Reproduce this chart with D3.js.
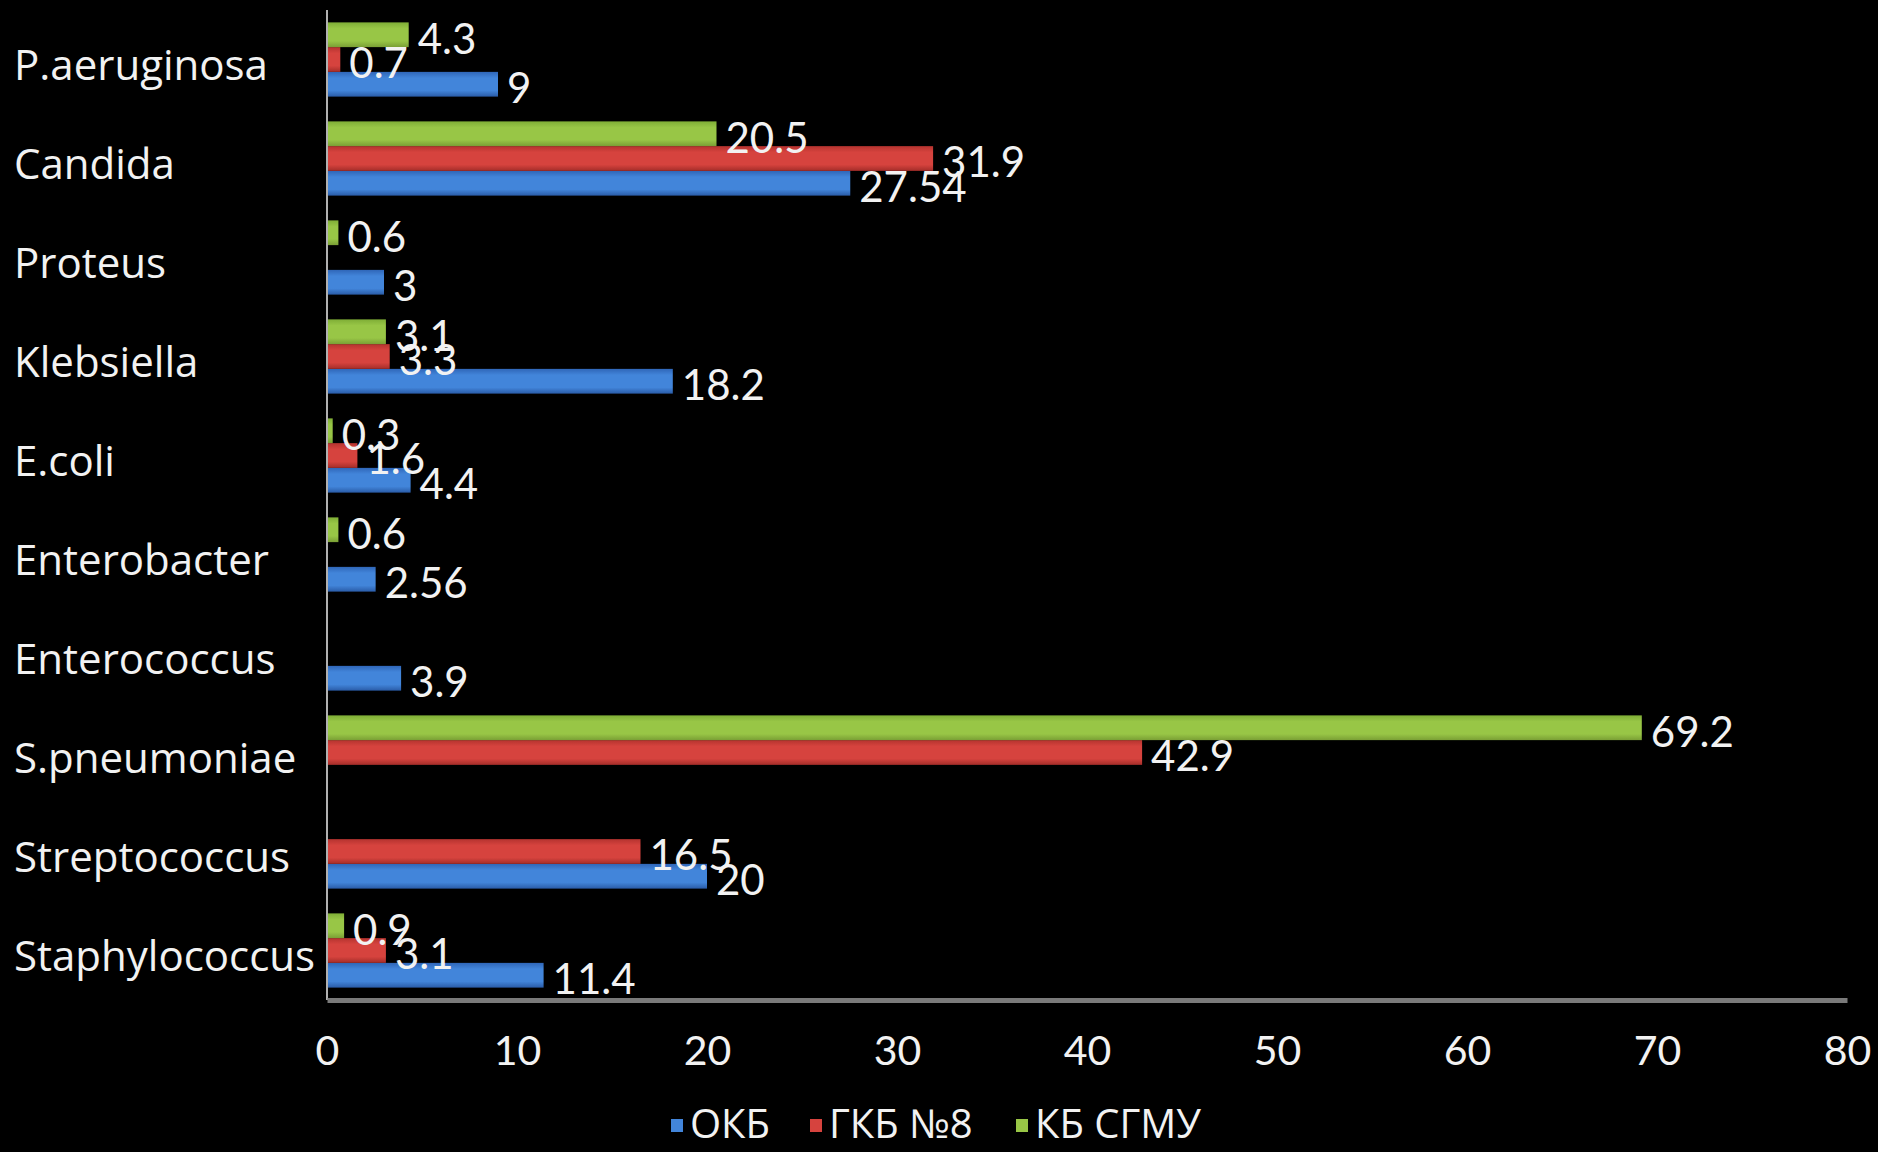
<!DOCTYPE html>
<html>
<head>
<meta charset="utf-8">
<script src="https://cdn.jsdelivr.net/npm/d3@7"></script>
<style>
  html, body { margin: 0; padding: 0; background: #000; }
  svg { display: block; }
  text { font-family: Lato, "Open Sans", sans-serif; fill: #f2f2f2; }
</style>
</head>
<body>
<svg id="chart" width="1878" height="1152"></svg>
<script>
// Organisms, listed top to bottom as they appear on the axis
const categories = [
  "P.aeruginosa", "Candida", "Proteus", "Klebsiella", "E.coli",
  "Enterobacter", "Enterococcus", "S.pneumoniae", "Streptococcus", "Staphylococcus"
];

// Hospital series (null = no isolate recorded)
const seriesNames = ["ОКБ", "ГКБ №8", "КБ СГМУ"];
const okb    = [9, 27.54, 3, 18.2, 4.4, 2.56, 3.9, null, 20, 11.4];
const gkb8   = [0.7, 31.9, null, 3.3, 1.6, null, null, 42.9, 16.5, 3.1];
const kbSgmu = [4.3, 20.5, 0.6, 3.1, 0.3, 0.6, null, 69.2, null, 0.9];

const xTicks = [0, 10, 20, 30, 40, 50, 60, 70, 80];

const seriesValues = [okb, gkb8, kbSgmu];
const seriesColors = {
  "ОКБ":     ["#2f66b8", "#4285da", "#2a5ca8"],
  "ГКБ №8":  ["#b5332f", "#d6433e", "#a42d29"],
  "КБ СГМУ": ["#7fae36", "#98c646", "#7a9f35"]
};

const svg = d3.select("#chart");
const plot = { left: 327, right: 1847, top: 10, bottom: 1000 };

// gradients give the bars a slightly rounded, glossy look
const defs = svg.append("defs");
seriesNames.forEach((name, i) => {
  const c = seriesColors[name];
  const g = defs.append("linearGradient")
    .attr("id", "grad" + i).attr("x1", 0).attr("y1", 0).attr("x2", 0).attr("y2", 1);
  g.append("stop").attr("offset", "0%").attr("stop-color", c[0]);
  g.append("stop").attr("offset", "25%").attr("stop-color", c[1]);
  g.append("stop").attr("offset", "75%").attr("stop-color", c[1]);
  g.append("stop").attr("offset", "100%").attr("stop-color", c[2]);
});

const x = d3.scaleLinear().domain([0, 80]).range([plot.left, plot.right]);

const y0 = d3.scaleBand()
  .domain(categories)
  .range([plot.top, plot.bottom])
  .paddingInner(0.25)
  .paddingOuter(0.125);

// within each group: КБ СГМУ on top, then ГКБ №8, then ОКБ
const y1 = d3.scaleBand()
  .domain(["КБ СГМУ", "ГКБ №8", "ОКБ"])
  .range([0, y0.bandwidth()]);

const rows = [];
categories.forEach((cat, ci) => {
  seriesNames.forEach((name, si) => {
    const v = seriesValues[si][ci];
    if (v !== null) rows.push({ cat, name, si, v });
  });
});

const bars = svg.append("g");
bars.selectAll("rect")
  .data(rows)
  .join("rect")
  .attr("x", x(0))
  .attr("y", d => y0(d.cat) + y1(d.name))
  .attr("width", d => x(d.v) - x(0))
  .attr("height", y1.bandwidth())
  .attr("fill", d => "url(#grad" + d.si + ")");

// value labels
svg.append("g").selectAll("text")
  .data(rows)
  .join("text")
  .attr("x", d => x(d.v) + 9)
  .attr("y", d => y0(d.cat) + y1(d.name) + y1.bandwidth() / 2 + 3)
  .attr("dy", "0.38em")
  .style("font-size", "42px")
  .text(d => String(d.v));

// vertical (category) axis line
svg.append("line")
  .attr("x1", plot.left).attr("x2", plot.left)
  .attr("y1", plot.top).attr("y2", plot.bottom)
  .attr("stroke", "#b0b0b0").attr("stroke-width", 2);

// category labels
svg.append("g").selectAll("text")
  .data(categories)
  .join("text")
  .attr("x", 14)
  .attr("y", d => y0(d) + y0.bandwidth() / 2 + 5)
  .attr("dy", "0.36em")
  .style("font-family", "'Open Sans', sans-serif")
  .style("font-size", "42px")
  .text(d => d);

// horizontal value axis
const xAxis = svg.append("g")
  .attr("transform", `translate(0,${plot.bottom})`)
  .call(d3.axisBottom(x).tickValues(xTicks).tickSize(0).tickPadding(36));
xAxis.select(".domain").attr("stroke", "#7a7a7a").attr("stroke-width", 5);
xAxis.selectAll("text")
  .style("font-size", "41px")
  .style("font-family", "Lato, sans-serif")
  .attr("fill", "#f2f2f2");

// legend
const legend = svg.append("g").attr("transform", "translate(671,1124)");
const legendOffsets = [0, 139, 345];
seriesNames.forEach((name, i) => {
  const g = legend.append("g").attr("transform", `translate(${legendOffsets[i]},0)`);
  g.append("rect").attr("x", 0).attr("y", -5).attr("width", 12).attr("height", 13)
    .attr("fill", seriesColors[name][1]);
  g.append("text").attr("x", 19).attr("dy", "0.36em")
    .style("font-family", "'Open Sans', sans-serif")
    .style("font-size", "40px").text(name);
});
</script>
</body>
</html>
